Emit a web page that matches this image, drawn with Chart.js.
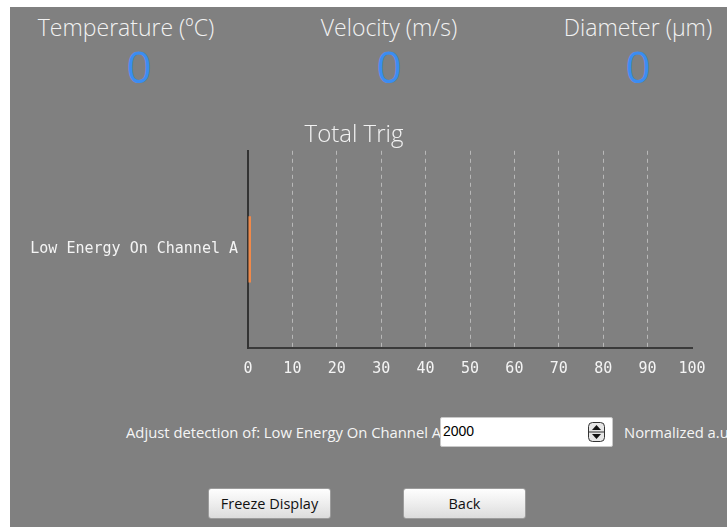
<!DOCTYPE html>
<html>
<head>
<meta charset="utf-8">
<script src="https://cdn.jsdelivr.net/npm/chart.js@4/dist/chart.umd.min.js"></script>
<style>
  html, body { margin: 0; padding: 0; width: 727px; height: 527px; overflow: hidden; background: #fff; }
  #panel { position: absolute; left: 10px; top: 7px; width: 717px; height: 520px; background: #808080; }
  .head { position: absolute; top: 11px; width: 240px; text-align: center; color: #f2f2f2;
          font-family: 'Open Sans', sans-serif; font-weight: 300; font-size: 23px; white-space: nowrap; }
  .big { position: absolute; top: 36px; width: 100px; text-align: center; color: #3b8df2;
         font-family: 'Open Sans', sans-serif; font-weight: 400; font-size: 44px; }
  .lbl { position: absolute; color: #f5f5f5; font-family: 'Open Sans', sans-serif; font-size: 14.8px; white-space: nowrap; }
  #spin { position: absolute; left: 440px; top: 417px; width: 171px; height: 28px; background: #fff;
          border: 1px solid #c9c9c9; border-radius: 2px; z-index: 2; }
  #spin span { position: absolute; left: 2px; top: 5px; font-family: 'Liberation Sans', sans-serif; font-size: 14px; color: #000; }
  #spin svg { position: absolute; left: 147px; top: 4px; }
  .btn { position: absolute; top: 488px; width: 121px; height: 29px; border: 1px solid #9c9c9c; border-radius: 3px;
         background: linear-gradient(#fefefe, #eeeeee 50%, #dcdcdc); text-align: center; line-height: 29px;
         font-family: 'Open Sans', sans-serif; font-size: 14.5px; color: #111; }
  #grafico { position: absolute; left: 0; top: 110px; }
</style>
</head>
<body>
<div id="panel"></div>

<div class="head" style="left:6px">Temperature (ºC)</div>
<div class="head" style="left:269px">Velocity (m/s)</div>
<div class="head" style="left:518px">Diameter (µm)</div>
<div class="big" style="left:89px">0</div>
<div class="big" style="left:339px">0</div>
<div class="big" style="left:588px">0</div>

<canvas id="grafico" width="727" height="285"></canvas>

<div class="lbl" style="left:126px; top:422px">Adjust detection of: Low Energy On Channel A</div>
<div id="spin"><span>2000</span>
  <svg width="17" height="20" viewBox="0 0 17 20">
    <rect x="0.5" y="0.5" width="16" height="19" rx="4" fill="#e6e6e6" stroke="#333"/>
    <line x1="1" y1="10" x2="16" y2="10" stroke="#333"/>
    <path d="M4 8 L8.5 3 L13 8 Z" fill="#111"/>
    <path d="M4 12 L8.5 17 L13 12 Z" fill="#111"/>
  </svg>
</div>
<div class="lbl" style="left:624px; top:422px">Normalized a.u</div>

<div class="btn" style="left:208px">Freeze Display</div>
<div class="btn" style="left:403px">Back</div>

<script>
// dados do grafico
var categorias = ['Low Energy On Channel A'];
var totalTrig = [0];
var escalaMin = 0;
var escalaMax = 100;
var passo = 10;

var corTexto = '#f4f4f4';
var fonteEixo = { family: 'DejaVu Sans Mono', size: 15 };

var ctx = document.getElementById('grafico').getContext('2d');
var grafico = new Chart(ctx, {
  type: 'bar',
  data: {
    labels: categorias,
    datasets: [{
      label: 'Total Trig',
      data: totalTrig,
      backgroundColor: '#f0894a',
      borderWidth: 0,
      minBarLength: 3,
      barPercentage: 0.335,
      categoryPercentage: 1
    }]
  },
  options: {
    indexAxis: 'y',
    responsive: false,
    animation: false,
    devicePixelRatio: 1,
    layout: { padding: { left: 16, right: 35, top: 11, bottom: 5 } },
    plugins: {
      legend: { display: false },
      tooltip: { enabled: false },
      title: {
        display: true,
        text: 'Total Trig',
        color: '#f2f2f2',
        font: { family: 'Open Sans', size: 24, weight: 300 },
        padding: { top: 0, bottom: 1 }
      }
    },
    scales: {
      x: {
        type: 'linear',
        min: escalaMin,
        max: escalaMax,
        ticks: { stepSize: passo, color: corTexto, font: fonteEixo, padding: 12, maxRotation: 0 },
        grid: {
          drawTicks: false,
          lineWidth: 1,
          color: function(c) {
            // sem linha no 0 e no 100
            if (c.tick && (c.tick.value === escalaMin || c.tick.value === escalaMax)) return 'rgba(0,0,0,0)';
            return '#b8b8b8';
          }
        },
        border: { display: true, color: '#3a3a3a', width: 2, dash: [4, 4] }
      },
      y: {
        ticks: { color: corTexto, font: fonteEixo, padding: 10 },
        grid: { display: false, drawTicks: false },
        border: { display: true, color: '#333333', width: 2 },
        afterFit: function(scale) { scale.width = 232; }
      }
    }
  }
});
</script>
</body>
</html>
